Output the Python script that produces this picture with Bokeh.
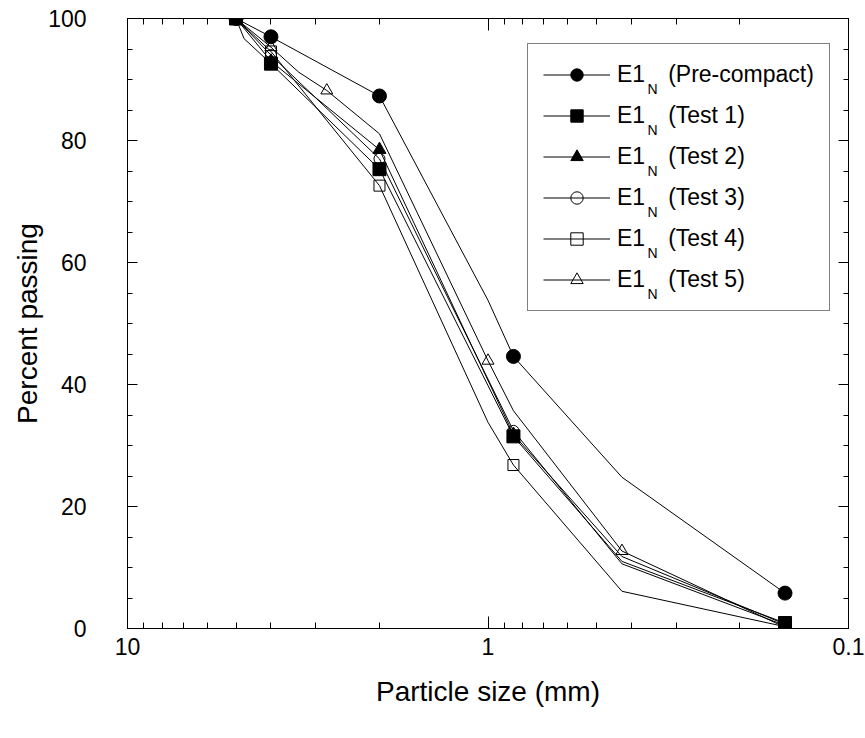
from bokeh.plotting import figure
from bokeh.models import (Range1d, FixedTicker, LinearAxis, LogAxis, Legend, LegendItem,
                          Label, CustomJSTickFormatter)
from bokeh.embed import file_html
from bokeh.resources import INLINE

FONT = "Liberation Sans"

# ---------------- data ----------------
series_names = ["(Pre-compact)", "(Test 1)", "(Test 2)", "(Test 3)", "(Test 4)", "(Test 5)"]

# marker points (sieve size in mm, percent passing)
mark_sizes_main = [5, 4, 2, 0.85, 0.15]
mark_sizes_t5 = [5, 4, 2.8, 1, 0.425, 0.15]
pre_mark = [100, 97.0, 87.3, 44.6, 5.8]
t1_mark = [100, 92.6, 75.3, 31.5, 0.9]
t2_mark = [100, 93.0, 78.5, 31.8, 0.7]
t3_mark = [100, 94.0, 77.0, 32.4, 0.5]
t4_mark = [100, 94.6, 72.6, 26.8, 0.3]
t5_mark = [100, 95.3, 88.2, 43.9, 12.7, 0.2]

# connecting lines (vertices)
pre_line_x = [5, 4, 2, 1, 0.85, 0.425, 0.15]
pre_line_y = [100, 97.0, 87.3, 53.8, 44.6, 24.8, 5.8]
t1_line_x = [5, 4.75, 4, 2, 0.85, 0.425, 0.15]
t1_line_y = [100, 96.7, 92.6, 75.3, 31.5, 11.0, 0.9]
t2_line_x = [5, 4, 2, 0.85, 0.425, 0.15]
t2_line_y = [100, 93.0, 78.5, 31.8, 11.8, 0.7]
t3_line_x = [5, 4, 2, 0.85, 0.425, 0.15]
t3_line_y = [100, 94.0, 77.0, 32.4, 10.6, 0.5]
t4_line_x = [5, 4, 2, 1, 0.85, 0.425, 0.15]
t4_line_y = [100, 94.6, 72.6, 33.8, 26.8, 6.1, 0.3]
t5_line_x = [5, 4, 3.35, 2.8, 2, 1, 0.85, 0.425, 0.15]
t5_line_y = [100, 95.3, 91.2, 88.2, 81.1, 43.9, 35.7, 12.7, 0.2]

x_major = [10, 1, 0.1]
x_minor = [2, 3, 4, 5, 6, 7, 8, 9, 0.2, 0.3, 0.4, 0.5, 0.6, 0.7, 0.8, 0.9]
y_major = [0, 20, 40, 60, 80, 100]
y_minor = list(range(0, 101, 5))

# ---------------- figure ----------------
p = figure(width=865, height=738, x_axis_type="log",
           x_range=Range1d(10, 0.1), y_range=Range1d(0, 100),
           output_backend="svg", toolbar_location=None,
           min_border_left=127, min_border_right=17, min_border_top=18, min_border_bottom=110)
p.xgrid.visible = False
p.ygrid.visible = False
p.outline_line_color = "black"
p.outline_line_width = 1
p.background_fill_color = "white"
p.border_fill_color = "white"


def style_axis(ax, show_labels):
    ax.axis_line_color = "black"
    ax.major_tick_line_color = "black"
    ax.minor_tick_line_color = "black"
    ax.major_tick_out = 0
    ax.minor_tick_out = 0
    ax.major_label_text_font = FONT
    ax.major_label_text_color = "black"
    ax.axis_label_text_font = FONT
    ax.axis_label_text_font_style = "normal"
    ax.axis_label_text_color = "black"
    if not show_labels:
        ax.major_label_text_font_size = "0px"
        ax.major_label_text_alpha = 0


xfmt = CustomJSTickFormatter(code="return tick.toString();")

xa = p.xaxis[0]
xa.ticker = FixedTicker(ticks=x_major, minor_ticks=x_minor)
xa.formatter = xfmt
style_axis(xa, True)
xa.major_tick_in = 12
xa.minor_tick_in = 6
xa.major_label_text_font_size = "23px"
xa.major_label_standoff = 9
xa.axis_label = "Particle size (mm)"
xa.axis_label_text_font_size = "28px"
xa.axis_label_standoff = 18

ya = p.yaxis[0]
ya.ticker = FixedTicker(ticks=y_major, minor_ticks=y_minor)
style_axis(ya, True)
ya.major_tick_in = 10
ya.minor_tick_in = 5
ya.major_label_text_font_size = "23px"
ya.major_label_standoff = 41
ya.axis_label = "Percent passing"
ya.axis_label_text_font_size = "28px"
ya.axis_label_standoff = 2

top = LogAxis(ticker=FixedTicker(ticks=x_major, minor_ticks=x_minor))
style_axis(top, False)
top.major_tick_in = 12
top.minor_tick_in = 6
p.add_layout(top, "above")

right = LinearAxis(ticker=FixedTicker(ticks=y_major, minor_ticks=y_minor))
style_axis(right, False)
right.major_tick_in = 10
right.minor_tick_in = 5
p.add_layout(right, "right")

# ---------------- glyphs ----------------
line_sets = [(pre_line_x, pre_line_y), (t1_line_x, t1_line_y), (t2_line_x, t2_line_y),
             (t3_line_x, t3_line_y), (t4_line_x, t4_line_y), (t5_line_x, t5_line_y)]
mark_sets = [(mark_sizes_main, pre_mark), (mark_sizes_main, t1_mark), (mark_sizes_main, t2_mark),
             (mark_sizes_main, t3_mark), (mark_sizes_main, t4_mark), (mark_sizes_t5, t5_mark)]
styles = [("circle", 14, "black"), ("square", 13, "black"), ("triangle", 13, "black"),
          ("circle", 11, None), ("square", 11, None), ("triangle", 12, None)]

items = []
for i in range(6):
    lx, ly = line_sets[i]
    mx, my = mark_sets[i]
    lr = p.line(lx, ly, line_color="black", line_width=1)
    m, s, fc = styles[i]
    sr = p.scatter(mx, my, marker=m, size=s, fill_color=fc, line_color="black", line_width=1)
    items.append(LegendItem(label="E1\u2003" + series_names[i], renderers=[lr, sr]))

# ---------------- legend ----------------
pad, gh, sp = 15, 31, 10
leg_h = 2 * pad + 6 * gh + 5 * sp
leg = Legend(items=items, location=(400, 610 - 27 - leg_h), orientation="vertical",
             label_text_font=FONT, label_text_font_size="23px", label_text_color="black",
             glyph_width=67, glyph_height=gh, label_height=gh, label_standoff=7,
             spacing=sp, padding=pad, margin=0,
             border_line_color="black", border_line_width=1,
             background_fill_alpha=0)
p.add_layout(leg)

for i in range(6):
    cy = 27 + pad + gh / 2 + i * (gh + sp)      # from frame top
    p.add_layout(Label(x=520, y=610 - cy - 13, x_units="screen", y_units="screen",
                       text="N", text_font=FONT, text_font_size="14px", level="overlay",
                       text_color="black", text_baseline="middle", text_align="left"))

open("out.html", "w").write(file_html(p, INLINE))
